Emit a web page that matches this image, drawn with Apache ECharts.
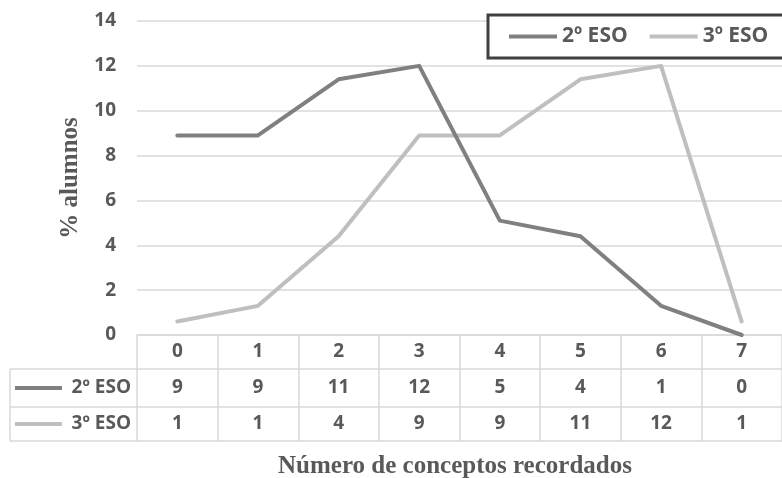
<!DOCTYPE html>
<html>
<head>
<meta charset="utf-8">
<script src="https://cdn.jsdelivr.net/npm/echarts@6/dist/echarts.min.js"></script>
<style>
html,body{margin:0;padding:0;background:#fff;}
#chart{width:782px;height:478px;}
</style>
</head>
<body>
<div id="chart"></div>
<script>
// ---- data ----
const categories = ['0', '1', '2', '3', '4', '5', '6', '7'];
const seriesNames = ['2º ESO', '3º ESO'];
const eso2 = [8.9, 8.9, 11.4, 12.0, 5.1, 4.4, 1.3, 0.0];
const eso3 = [0.6, 1.3, 4.4, 8.9, 8.9, 11.4, 12.0, 0.6];
const eso2Table = ['9', '9', '11', '12', '5', '4', '1', '0'];
const eso3Table = ['1', '1', '4', '9', '9', '11', '12', '1'];
const yTitle = '% alumnos';
const xTitle = 'Número de conceptos recordados';

const colors = ['#808080', '#bfbfbf'];
const textColor = '#595959';
const lineColor = '#d9d9d9';
const sans = '"Open Sans", "DejaVu Sans", sans-serif';
const serif = '"Liberation Serif", "DejaVu Serif", serif';

const chart = echarts.init(document.getElementById('chart'), null, {renderer: 'canvas'});

const gridLeft = 137, gridTop = 21, gridW = 648, gridH = 314;

function tableAxis(offset, formatter, margin, extra) {
  return Object.assign({
    type: 'category',
    data: categories,
    position: 'bottom',
    offset: offset,
    boundaryGap: true,
    axisLine: {show: true, lineStyle: {color: lineColor, width: 1.5}},
    axisTick: {show: false},
    splitLine: {show: false},
    axisLabel: {
      show: formatter !== null,
      interval: 0,
      margin: margin,
      verticalAlign: 'middle',
      fontFamily: sans,
      fontSize: 19,
      fontWeight: 'bold',
      color: textColor,
      formatter: formatter || undefined
    }
  }, extra || {});
}

const rowCenters = [388, 424];
const graphics = [];
[369, 407, 441].forEach(y => graphics.push({
  type: 'line', shape: {x1: 10, y1: y, x2: gridLeft, y2: y},
  style: {stroke: lineColor, lineWidth: 1.5}
}));
graphics.push({type: 'line', shape: {x1: 10, y1: 369, x2: 10, y2: 441},
  style: {stroke: lineColor, lineWidth: 1.5}});
seriesNames.forEach((n, i) => {
  graphics.push({type: 'line', shape: {x1: 15, y1: rowCenters[i], x2: 62, y2: rowCenters[i]},
    style: {stroke: colors[i], lineWidth: 4}});
  graphics.push({type: 'text', x: 131, y: rowCenters[i],
    style: {text: n, align: 'right', verticalAlign: 'middle', fill: textColor,
      font: 'bold 19px ' + sans}});
});
graphics.push({type: 'text', x: 455, y: 467,
  style: {text: xTitle, align: 'center', verticalAlign: 'middle', fill: textColor,
    font: 'bold 25px ' + serif}});

const option = {
  animation: false,
  backgroundColor: '#ffffff',
  grid: {left: gridLeft, top: gridTop, width: gridW, height: gridH, containLabel: false},
  legend: {
    data: seriesNames,
    orient: 'horizontal',
    left: 488, top: 15, width: 330,
    backgroundColor: '#ffffff',
    borderColor: '#404040', borderWidth: 3,
    padding: [11, 30, 11, 21],
    itemWidth: 48, itemHeight: 4, itemGap: 22,
    icon: 'rect',
    textStyle: {fontFamily: sans, fontSize: 21, fontWeight: 'bold', color: textColor}
  },
  xAxis: [
    tableAxis(0, null, 17, {
      axisTick: {show: true, length: 106, interval: 0, alignWithLabel: false,
        lineStyle: {color: lineColor, width: 1.5}},
      axisLabel: {show: true, interval: 0, margin: 17, verticalAlign: 'middle',
        fontFamily: sans, fontSize: 19, fontWeight: 'bold', color: textColor}
    }),
    tableAxis(34, (v, i) => eso2Table[i], 19),
    tableAxis(72, (v, i) => eso3Table[i], 17),
    tableAxis(106, null, 10)
  ],
  yAxis: {
    type: 'value', min: 0, max: 14, interval: 2,
    axisLine: {show: false}, axisTick: {show: false},
    splitLine: {lineStyle: {color: lineColor, width: 1.5}},
    axisLabel: {margin: 21, fontFamily: sans, fontSize: 19, fontWeight: 'bold', color: textColor},
    name: yTitle, nameLocation: 'middle', nameRotate: 90, nameGap: 51,
    nameTextStyle: {fontFamily: serif, fontSize: 25, fontWeight: 'bold', color: textColor}
  },
  series: [
    {name: seriesNames[0], type: 'line', data: eso2, xAxisIndex: 0, symbol: 'none',
      lineStyle: {color: colors[0], width: 4, cap: 'round', join: 'round'},
      itemStyle: {color: colors[0]}, z: 3},
    {name: seriesNames[1], type: 'line', data: eso3, xAxisIndex: 0, symbol: 'none',
      lineStyle: {color: colors[1], width: 4, cap: 'round', join: 'round'},
      itemStyle: {color: colors[1]}, z: 2}
  ],
  graphic: graphics
};
chart.setOption(option);
</script>
</body>
</html>
